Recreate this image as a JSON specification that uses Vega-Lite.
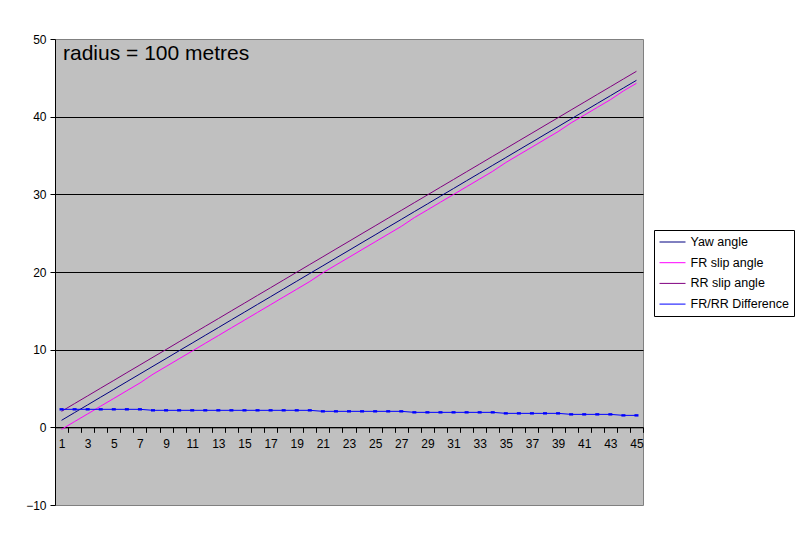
{
  "$schema": "https://vega.github.io/schema/vega-lite/v6.json",
  "width": 588,
  "height": 466,
  "autosize": {"type": "none"},
  "padding": {"left": 55, "top": 39, "right": 164, "bottom": 35},
  "background": "white",
  "title": {
    "text": "radius = 100 metres",
    "anchor": "start",
    "frame": "group",
    "orient": "top",
    "baseline": "top",
    "offset": -31,
    "dx": 8,
    "fontSize": 21,
    "font": "Liberation Sans",
    "fontWeight": "normal",
    "color": "black"
  },
  "config": {
    "view": {"fill": "#C0C0C0", "stroke": "#808080", "strokeWidth": 1},
    "axis": {
      "labelFont": "Liberation Sans",
      "labelFontSize": 12,
      "labelColor": "black",
      "domainColor": "black",
      "tickColor": "black",
      "tickSize": 5,
      "title": null
    }
  },
  "data": {
    "values": [
      {"n": 1, "Yaw angle": 0.90, "FR slip angle": -0.26, "RR slip angle": 2.06, "FR/RR Difference": 2.32},
      {"n": 2, "Yaw angle": 1.90, "FR slip angle": 0.74, "RR slip angle": 3.06, "FR/RR Difference": 2.32},
      {"n": 3, "Yaw angle": 2.89, "FR slip angle": 1.73, "RR slip angle": 4.05, "FR/RR Difference": 2.32},
      {"n": 4, "Yaw angle": 3.89, "FR slip angle": 2.73, "RR slip angle": 5.05, "FR/RR Difference": 2.32},
      {"n": 5, "Yaw angle": 4.88, "FR slip angle": 3.72, "RR slip angle": 6.04, "FR/RR Difference": 2.32},
      {"n": 6, "Yaw angle": 5.88, "FR slip angle": 4.72, "RR slip angle": 7.04, "FR/RR Difference": 2.32},
      {"n": 7, "Yaw angle": 6.87, "FR slip angle": 5.71, "RR slip angle": 8.03, "FR/RR Difference": 2.32},
      {"n": 8, "Yaw angle": 7.87, "FR slip angle": 6.84, "RR slip angle": 9.03, "FR/RR Difference": 2.19},
      {"n": 9, "Yaw angle": 8.86, "FR slip angle": 7.83, "RR slip angle": 10.02, "FR/RR Difference": 2.19},
      {"n": 10, "Yaw angle": 9.86, "FR slip angle": 8.83, "RR slip angle": 11.02, "FR/RR Difference": 2.19},
      {"n": 11, "Yaw angle": 10.85, "FR slip angle": 9.82, "RR slip angle": 12.01, "FR/RR Difference": 2.19},
      {"n": 12, "Yaw angle": 11.85, "FR slip angle": 10.82, "RR slip angle": 13.01, "FR/RR Difference": 2.19},
      {"n": 13, "Yaw angle": 12.84, "FR slip angle": 11.81, "RR slip angle": 14.00, "FR/RR Difference": 2.19},
      {"n": 14, "Yaw angle": 13.84, "FR slip angle": 12.81, "RR slip angle": 15.00, "FR/RR Difference": 2.19},
      {"n": 15, "Yaw angle": 14.83, "FR slip angle": 13.80, "RR slip angle": 15.99, "FR/RR Difference": 2.19},
      {"n": 16, "Yaw angle": 15.83, "FR slip angle": 14.80, "RR slip angle": 16.99, "FR/RR Difference": 2.19},
      {"n": 17, "Yaw angle": 16.82, "FR slip angle": 15.79, "RR slip angle": 17.98, "FR/RR Difference": 2.19},
      {"n": 18, "Yaw angle": 17.82, "FR slip angle": 16.79, "RR slip angle": 18.98, "FR/RR Difference": 2.19},
      {"n": 19, "Yaw angle": 18.81, "FR slip angle": 17.78, "RR slip angle": 19.97, "FR/RR Difference": 2.19},
      {"n": 20, "Yaw angle": 19.81, "FR slip angle": 18.78, "RR slip angle": 20.97, "FR/RR Difference": 2.19},
      {"n": 21, "Yaw angle": 20.80, "FR slip angle": 19.90, "RR slip angle": 21.96, "FR/RR Difference": 2.06},
      {"n": 22, "Yaw angle": 21.80, "FR slip angle": 20.90, "RR slip angle": 22.96, "FR/RR Difference": 2.06},
      {"n": 23, "Yaw angle": 22.79, "FR slip angle": 21.89, "RR slip angle": 23.95, "FR/RR Difference": 2.06},
      {"n": 24, "Yaw angle": 23.79, "FR slip angle": 22.89, "RR slip angle": 24.95, "FR/RR Difference": 2.06},
      {"n": 25, "Yaw angle": 24.78, "FR slip angle": 23.88, "RR slip angle": 25.94, "FR/RR Difference": 2.06},
      {"n": 26, "Yaw angle": 25.78, "FR slip angle": 24.88, "RR slip angle": 26.94, "FR/RR Difference": 2.06},
      {"n": 27, "Yaw angle": 26.77, "FR slip angle": 25.87, "RR slip angle": 27.93, "FR/RR Difference": 2.06},
      {"n": 28, "Yaw angle": 27.77, "FR slip angle": 27.00, "RR slip angle": 28.93, "FR/RR Difference": 1.93},
      {"n": 29, "Yaw angle": 28.76, "FR slip angle": 27.99, "RR slip angle": 29.92, "FR/RR Difference": 1.93},
      {"n": 30, "Yaw angle": 29.76, "FR slip angle": 28.99, "RR slip angle": 30.92, "FR/RR Difference": 1.93},
      {"n": 31, "Yaw angle": 30.75, "FR slip angle": 29.98, "RR slip angle": 31.91, "FR/RR Difference": 1.93},
      {"n": 32, "Yaw angle": 31.75, "FR slip angle": 30.98, "RR slip angle": 32.91, "FR/RR Difference": 1.93},
      {"n": 33, "Yaw angle": 32.74, "FR slip angle": 31.97, "RR slip angle": 33.90, "FR/RR Difference": 1.93},
      {"n": 34, "Yaw angle": 33.74, "FR slip angle": 32.97, "RR slip angle": 34.90, "FR/RR Difference": 1.93},
      {"n": 35, "Yaw angle": 34.73, "FR slip angle": 34.09, "RR slip angle": 35.89, "FR/RR Difference": 1.80},
      {"n": 36, "Yaw angle": 35.73, "FR slip angle": 35.09, "RR slip angle": 36.89, "FR/RR Difference": 1.80},
      {"n": 37, "Yaw angle": 36.72, "FR slip angle": 36.08, "RR slip angle": 37.88, "FR/RR Difference": 1.80},
      {"n": 38, "Yaw angle": 37.72, "FR slip angle": 37.08, "RR slip angle": 38.88, "FR/RR Difference": 1.80},
      {"n": 39, "Yaw angle": 38.71, "FR slip angle": 38.07, "RR slip angle": 39.87, "FR/RR Difference": 1.80},
      {"n": 40, "Yaw angle": 39.71, "FR slip angle": 39.20, "RR slip angle": 40.87, "FR/RR Difference": 1.67},
      {"n": 41, "Yaw angle": 40.70, "FR slip angle": 40.19, "RR slip angle": 41.86, "FR/RR Difference": 1.67},
      {"n": 42, "Yaw angle": 41.70, "FR slip angle": 41.19, "RR slip angle": 42.86, "FR/RR Difference": 1.67},
      {"n": 43, "Yaw angle": 42.69, "FR slip angle": 42.18, "RR slip angle": 43.85, "FR/RR Difference": 1.67},
      {"n": 44, "Yaw angle": 43.69, "FR slip angle": 43.31, "RR slip angle": 44.85, "FR/RR Difference": 1.54},
      {"n": 45, "Yaw angle": 44.68, "FR slip angle": 44.30, "RR slip angle": 45.84, "FR/RR Difference": 1.54}
    ]
  },
  "transform": [
    {"fold": ["Yaw angle", "FR slip angle", "RR slip angle", "FR/RR Difference"], "as": ["series", "value"]}
  ],
  "encoding": {
    "x": {
      "field": "n",
      "type": "ordinal",
      "bandPosition": 0.5,
      "scale": {"type": "band", "paddingInner": 0, "paddingOuter": 0},
      "axis": {
        "offset": -77.67,
        "tickBand": "extent",
        "labelAngle": 0,
        "labelPadding": 6,
        "labelOverlap": false,
        "labelExpr": "datum.value % 2 == 1 ? datum.label : ''",
        "grid": false
      }
    },
    "y": {
      "field": "value",
      "type": "quantitative",
      "scale": {"domain": [-10, 50], "nice": false, "zero": false},
      "axis": {
        "values": [-10, 0, 10, 20, 30, 40, 50],
        "labelPadding": 4,
        "grid": true,
        "gridColor": "black",
        "gridOpacity": {"condition": {"test": "datum.value == -10 || datum.value == 50", "value": 0}, "value": 1}
      }
    }
  },
  "layer": [
    {
      "mark": {"type": "line", "strokeWidth": 1},
      "encoding": {
        "color": {
          "field": "series",
          "type": "nominal",
          "scale": {
            "domain": ["Yaw angle", "FR slip angle", "RR slip angle", "FR/RR Difference"],
            "range": ["#000080", "#FF00FF", "#800080", "#0000FF"]
          },
          "legend": {
            "title": null,
            "orient": "none",
            "legendX": 599,
            "legendY": 191,
            "padding": 5,
            "strokeColor": "black",
            "fillColor": "white",
            "symbolType": "M-2,0H2",
            "symbolSize": 169,
            "symbolStrokeWidth": 1,
            "symbolOffset": 6.5,
            "labelOffset": 11,
            "labelFont": "Liberation Sans",
            "labelFontSize": 12.5,
            "labelColor": "black",
            "labelLimit": 300,
            "rowPadding": 6.7
          }
        },
        "strokeWidth": {"condition": {"test": "datum.series === 'FR/RR Difference'", "value": 1.6}, "value": 1}
      }
    },
    {
      "transform": [{"filter": "datum.series === 'FR/RR Difference'"}],
      "mark": {"type": "point", "shape": "M-1,-0.6H1V0.6H-1Z", "filled": true, "size": 16, "color": "#0000FF", "opacity": 1},
      "encoding": {}
    }
  ]
}
